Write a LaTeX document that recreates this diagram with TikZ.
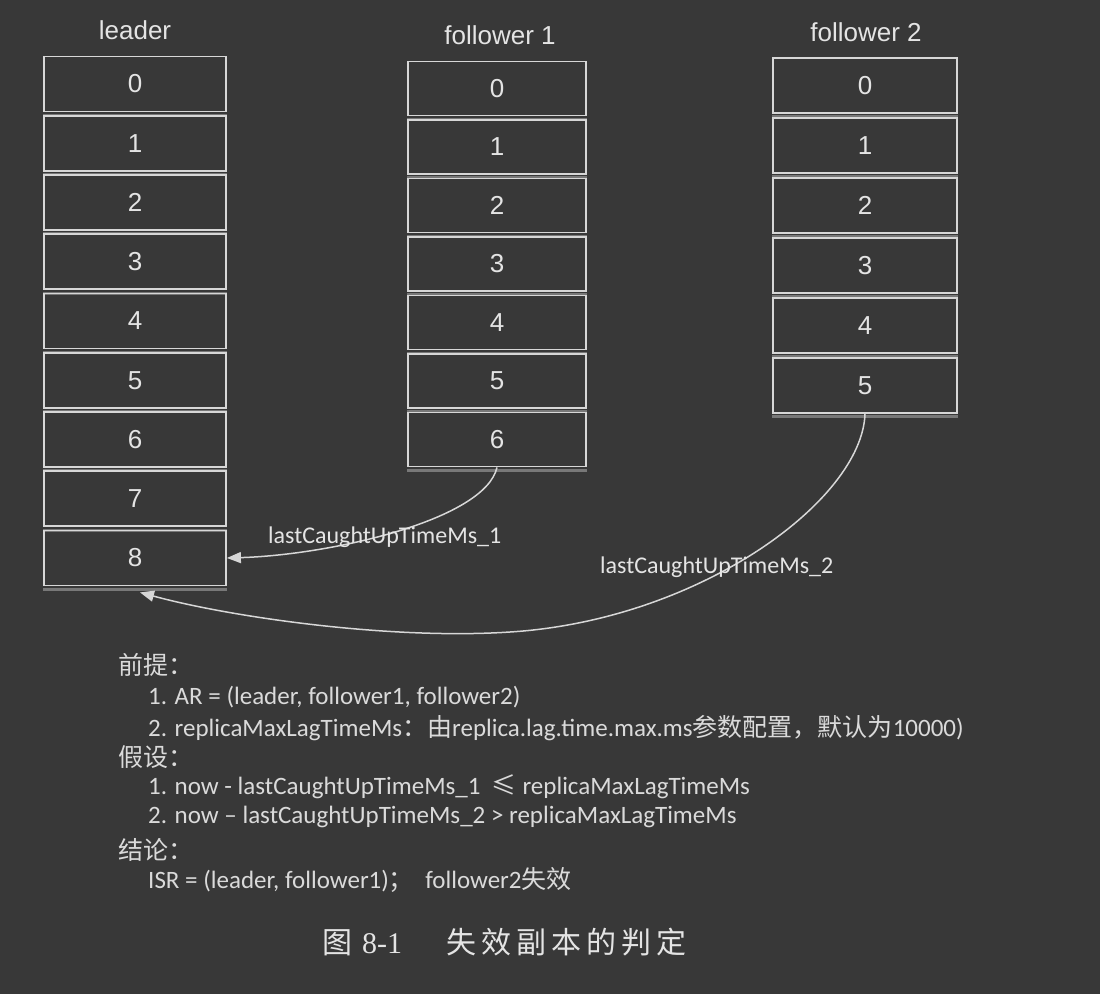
\documentclass[tikz,border=0pt]{standalone}
\usepackage{fontspec}
\setmainfont{Liberation Sans}
\newfontfamily\calfont{Carlito}
\newfontfamily\cjk{Noto Sans CJK SC}
\newfontfamily\serifnum{Liberation Serif}
\usetikzlibrary{arrows.meta}
\definecolor{bgc}{RGB}{56,56,56}
\definecolor{linec}{RGB}{215,215,215}
\definecolor{txtc}{RGB}{228,228,228}
\definecolor{bodyc}{RGB}{218,218,218}
\definecolor{shc}{RGB}{120,120,120}
\tikzset{
  cell/.style={draw=linec, line width=1.8pt, inner sep=0pt, text=txtc,
    font=\fontsize{26}{26}\selectfont},
  lcell/.style={cell, minimum width=182pt, minimum height=55pt},
  acell/.style={cell, minimum width=178pt, minimum height=54pt},
  bcell/.style={cell, minimum width=184pt, minimum height=55pt},
  coltitle/.style={text=txtc, font=\fontsize{26}{26}\selectfont, inner sep=0pt},
  conn/.style={draw=linec, line width=1.5pt, -{Triangle[length=14pt,width=11pt]}},
  edgelbl/.style={text=txtc, font=\calfont\fontsize{24}{24}\selectfont, inner sep=0pt, anchor=west},
  bodyline/.style={text=bodyc, font=\calfont\fontsize{25}{25}\selectfont, inner sep=0pt, anchor=west},
  shadowband/.style={fill=shc}
}
\begin{document}
\begin{tikzpicture}[x=1pt,y=-1pt]
\fill[bgc] (0,0) rectangle (1100,994);
\useasboundingbox (0,0) rectangle (1100,994);

% column titles
\node[coltitle] (tL) at (135,30) {leader};
\node[coltitle] (tA) at (500,35) {follower 1};
\node[coltitle] (tB) at (866,32) {follower 2};

% leader column
\foreach \i in {0,...,8} {
  \node[lcell] (L\i) at (135,{84+59.25*\i}) {\i};
  \fill[shadowband] ([yshift=-1.5pt]L\i.south west) rectangle ([yshift=-4.5pt]L\i.south east);
}
% follower 1 column
\foreach \i in {0,...,6} {
  \node[acell] (A\i) at (497,{88.5+58.5*\i}) {\i};
  \fill[shadowband] ([yshift=-1.5pt]A\i.south west) rectangle ([yshift=-4.5pt]A\i.south east);
}
% follower 2 column
\foreach \i in {0,...,5} {
  \node[bcell] (B\i) at (865,{85.5+60*\i}) {\i};
  \fill[shadowband] ([yshift=-1.5pt]B\i.south west) rectangle ([yshift=-4.5pt]B\i.south east);
}

% connectors
\draw[conn] (A6.south) .. controls (485,520) and (330,555) .. (L8.east);
\draw[conn] (B5.south) .. controls (862,500) and (700,620) .. (510,632)
   .. controls (390,640) and (230,617) .. ([shift={(5,6)}]L8.south);

\node[edgelbl] (lab1) at (268,537) {lastCaughtUpTimeMs\_1};
\node[edgelbl] (lab2) at (600,567) {lastCaughtUpTimeMs\_2};

% text block
\node[bodyline] (p0) at (118,665) {\cjk 前提：};
\node[bodyline] (p1) at (148,697) {1. AR = (leader, follower1, follower2)};
\node[bodyline] (p2) at (148,728) {2. replicaMaxLagTimeMs{\cjk ：由}replica.lag.time.max.ms{\cjk 参数配置，默认为}10000)};
\node[bodyline] (h0) at (118,757) {\cjk 假设：};
\node[bodyline] (h1) at (148,787) {1. now - lastCaughtUpTimeMs\_1\ \ {\cjk ≤}\ replicaMaxLagTimeMs};
\node[bodyline] (h2) at (148,817) {2. now – lastCaughtUpTimeMs\_2\ \textgreater\ replicaMaxLagTimeMs};
\node[bodyline] (c0) at (118,850) {\cjk 结论：};
\node[bodyline] (c1) at (148,880) {ISR = (leader, follower1){\cjk ；}\ \ follower2{\cjk 失效}};

% caption
\node[text=txtc, inner sep=0pt, anchor=west, font=\fontsize{30}{30}\selectfont] (cap) at (322,942)
  {{\cjk 图}\hspace{10pt}{\serifnum 8-1}\hspace{44pt}{\cjk 失\hspace{5pt}效\hspace{5pt}副\hspace{5pt}本\hspace{5pt}的\hspace{5pt}判\hspace{5pt}定}};
\end{tikzpicture}
\end{document}
